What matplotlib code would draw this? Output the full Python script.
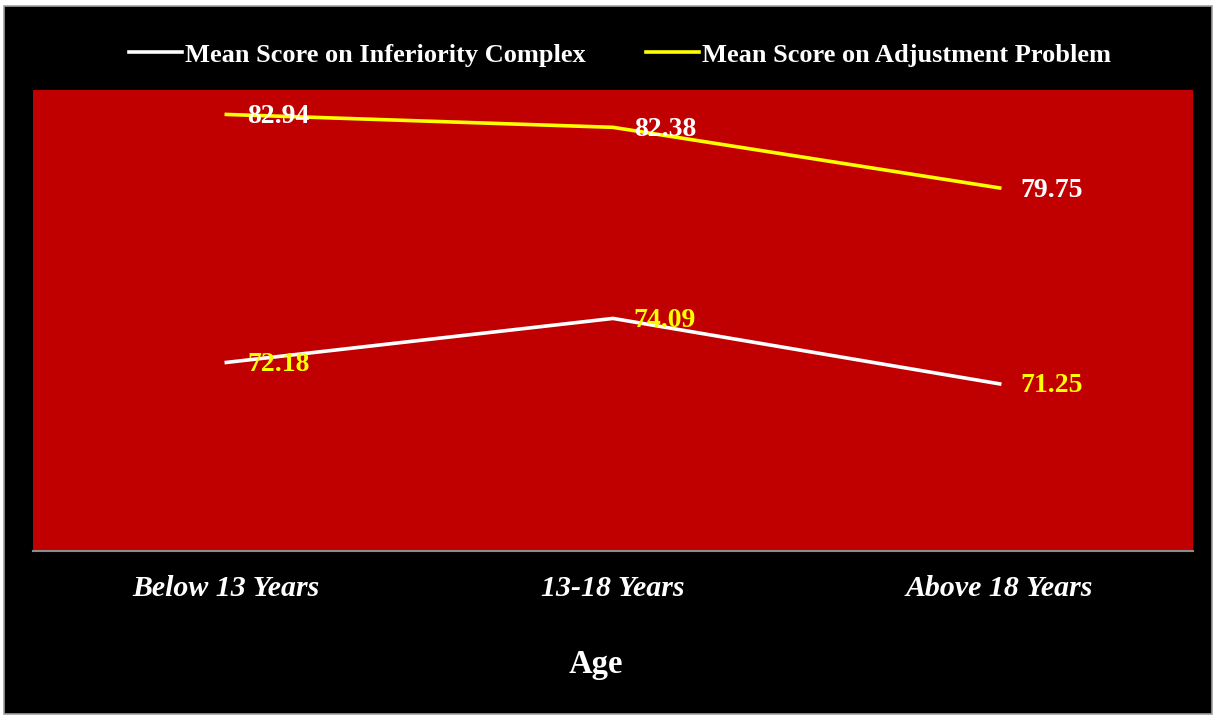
import matplotlib
matplotlib.use("Agg")
import matplotlib.pyplot as plt
from matplotlib.patches import Rectangle

plt.rcParams["font.family"] = ["Liberation Serif", "DejaVu Serif"]

categories = ["Below 13 Years", "13-18 Years", "Above 18 Years"]
inferiority = [72.18, 74.09, 71.25]
adjustment = [82.94, 82.38, 79.75]
series_names = ["Mean Score on Inferiority Complex", "Mean Score on Adjustment Problem"]

W, H = 1216, 716
fig = plt.figure(figsize=(W / 100, H / 100), dpi=100, facecolor="white")

# black chart area with a thin grey border, kept behind the axes
fig.patches.append(Rectangle((4 / W, 2 / H), 1208 / W, 708 / H, transform=fig.transFigure,
                             facecolor="black", edgecolor="#a0a0a0", linewidth=1.2,
                             zorder=-10))

ax = fig.add_axes([33 / W, (H - 551) / H, 1160 / W, (551 - 90) / H])
ax.set_facecolor("#c00000")
x = list(range(len(categories)))
l1, = ax.plot(x, inferiority, color="white", lw=2.6, label=series_names[0])
l2, = ax.plot(x, adjustment, color="#ffff00", lw=2.6, label=series_names[1])

for xi, v in zip(x, inferiority):
    ax.annotate(f"{v:.2f}", (xi, v), xytext=(15, -1.5), textcoords="offset points",
                ha="left", va="center", color="#ffff00", fontsize=20, fontweight="bold")
for xi, v in zip(x, adjustment):
    ax.annotate(f"{v:.2f}", (xi, v), xytext=(15, -1.5), textcoords="offset points",
                ha="left", va="center", color="white", fontsize=20, fontweight="bold")

ax.set_xlim(-0.5, 2.5)
ax.set_ylim(64, 84)
ax.set_yticks([])
ax.set_xticks(x)
ax.set_xticklabels(categories, fontsize=21.5, fontweight="bold", fontstyle="italic", color="white")
ax.tick_params(axis="x", length=0, pad=17)
for s in ["top", "left", "right"]:
    ax.spines[s].set_visible(False)
ax.spines["bottom"].set_color("#8c8c8c")
ax.spines["bottom"].set_linewidth(1.5)

# axis title sits a little left of the plot centre in the original
ax.set_xlabel("Age", fontsize=23.5, fontweight="bold", color="white", labelpad=34, x=0.485)

fig.legend(handles=[l1, l2], loc="center", bbox_to_anchor=(620 / W, 1 - 55 / H), ncol=2,
           frameon=False, handlelength=2.0, handletextpad=0.12, columnspacing=2.3,
           prop={"size": 19, "weight": "bold"}, labelcolor="white")

fig.savefig("out.png", dpi=100, facecolor="white")
